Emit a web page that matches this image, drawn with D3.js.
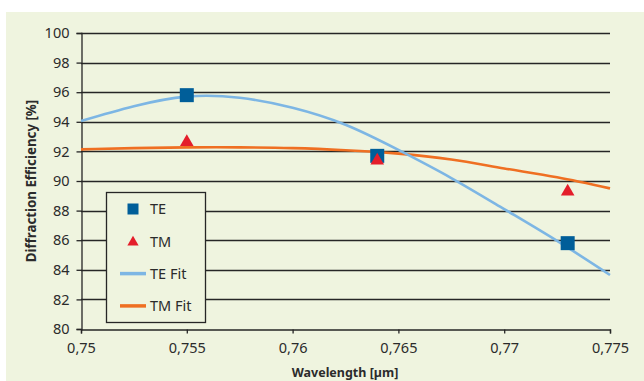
<!DOCTYPE html>
<html>
<head>
<meta charset="utf-8">
<script src="https://cdn.jsdelivr.net/npm/d3@7"></script>
<style>
  body { margin: 0; background: #fff; }
  svg text { font-family: "Noto Sans", "Open Sans", sans-serif; fill: #2b2b2b; }
</style>
</head>
<body>
<div id="chart"></div>
<script>
// measured points
const wavelengths = [0.755, 0.764, 0.773]
const teValues = [95.8, 91.7, 85.8]
const tmValues = [92.7, 91.45, 89.35]

// fit curves
const fitWavelengths = [0.75, 0.7525, 0.755, 0.7575, 0.76, 0.7625, 0.765, 0.7675, 0.77, 0.7725, 0.775]
const teFit = [94.05, 95.05, 95.7, 95.62, 94.95, 93.8, 92.1, 90.2, 88.1, 85.95, 83.65]
const tmFit = [92.14, 92.22, 92.27, 92.27, 92.22, 92.08, 91.85, 91.45, 90.85, 90.25, 89.5]

const xTicks = [0.75, 0.755, 0.76, 0.765, 0.77, 0.775]
const yTicks = [80, 82, 84, 86, 88, 90, 92, 94, 96, 98, 100]
const legendLabels = ['TE', 'TM', 'TE Fit', 'TM Fit']

const width = 644, height = 381
const colors = { te: '#005e99', tm: '#e41e2b', teFit: '#7db6e4', tmFit: '#ef6f22', bg: '#eff4df', ink: '#262626' }

const locale = d3.formatLocale({ decimal: ',', thousands: '.', grouping: [3], currency: ['', ''] })
const fmtX = locale.format('.3~f')

const svg = d3.select('#chart').append('svg')
  .attr('width', width)
  .attr('height', height)

svg.append('rect')
  .attr('x', 6).attr('y', 12)
  .attr('width', width - 6).attr('height', height - 12)
  .attr('fill', colors.bg)

const x = d3.scaleLinear().domain([0.75, 0.775]).range([81, 610])
const y = d3.scaleLinear().domain([80, 100]).range([329, 33])

// grid
svg.append('g')
  .selectAll('line')
  .data(yTicks.filter(d => d > 80))
  .enter().append('line')
  .attr('x1', x(0.75)).attr('x2', x(0.775))
  .attr('y1', d => Math.round(y(d)) + 0.5).attr('y2', d => Math.round(y(d)) + 0.5)
  .attr('stroke', colors.ink)
  .attr('stroke-width', 1.3)

// axes
const yAxis = svg.append('g')
  .attr('transform', 'translate(' + (x(0.75) + 0.5) + ',0)')
  .call(d3.axisLeft(y).tickValues(yTicks).tickSize(5).tickPadding(7))
const xAxis = svg.append('g')
  .attr('transform', 'translate(0,' + (y(80) + 0.5) + ')')
  .call(d3.axisBottom(x).tickValues(xTicks).tickFormat(fmtX).tickSize(4).tickPadding(9))

;[xAxis, yAxis].forEach(g => {
  g.select('.domain').attr('stroke', colors.ink).attr('stroke-width', 1.3)
  g.selectAll('.tick line').attr('stroke', colors.ink).attr('stroke-width', 1.3)
  g.selectAll('.tick text').attr('font-size', 14.5).attr('fill', colors.ink)
    .style('font-family', '"Noto Sans", sans-serif')
})

// axis titles
svg.append('text')
  .attr('x', 345).attr('y', 377)
  .attr('text-anchor', 'middle')
  .attr('font-size', 12.5).attr('font-weight', 'bold')
  .text('Wavelength [µm]')
svg.append('text')
  .attr('transform', 'translate(36,181) rotate(-90)')
  .attr('text-anchor', 'middle')
  .attr('font-size', 13.3).attr('font-weight', 'bold')
  .text('Diffraction Efficiency [%]')

// fit lines
const line = d3.line()
  .x((d, i) => x(fitWavelengths[i]))
  .y(d => y(d))
  .curve(d3.curveNatural)

svg.append('path').datum(tmFit)
  .attr('d', line).attr('fill', 'none')
  .attr('stroke', colors.tmFit).attr('stroke-width', 2.6)
svg.append('path').datum(teFit)
  .attr('d', line).attr('fill', 'none')
  .attr('stroke', colors.teFit).attr('stroke-width', 2.6)

// markers
const square = d3.symbol().type(d3.symbolSquare)
const triangle = d3.symbol().type(d3.symbolTriangle)

svg.append('g').selectAll('path')
  .data(teValues)
  .enter().append('path')
  .attr('d', square.size(196)())
  .attr('transform', (d, i) => 'translate(' + x(wavelengths[i]) + ',' + y(d) + ')')
  .attr('fill', colors.te)

svg.append('g').selectAll('path')
  .data(tmValues)
  .enter().append('path')
  .attr('d', triangle.size(80)())
  .attr('transform', (d, i) => 'translate(' + x(wavelengths[i]) + ',' + (y(d) + 1) + ')')
  .attr('fill', colors.tm)

// legend
const legend = svg.append('g').attr('transform', 'translate(106,192)')
legend.append('rect')
  .attr('x', 0.5).attr('y', 0.5)
  .attr('width', 99).attr('height', 130)
  .attr('fill', colors.bg)
  .attr('stroke', colors.ink).attr('stroke-width', 1.3)

legendLabels.forEach((label, i) => {
  const cy = 17 + i * 32.3
  const g = legend.append('g').attr('transform', 'translate(27,' + cy + ')')
  if (i === 0) {
    g.append('path').attr('d', square.size(121)()).attr('fill', colors.te)
  } else if (i === 1) {
    g.append('path').attr('d', triangle.size(55)()).attr('transform', 'translate(0,1)').attr('fill', colors.tm)
  } else {
    g.append('line')
      .attr('x1', -13).attr('x2', 13)
      .attr('stroke', i === 2 ? colors.teFit : colors.tmFit)
      .attr('stroke-width', 3.5)
  }
  g.append('text')
    .attr('x', 17).attr('dy', '0.36em')
    .attr('font-size', 14.5)
    .text(label)
})
</script>
</body>
</html>
